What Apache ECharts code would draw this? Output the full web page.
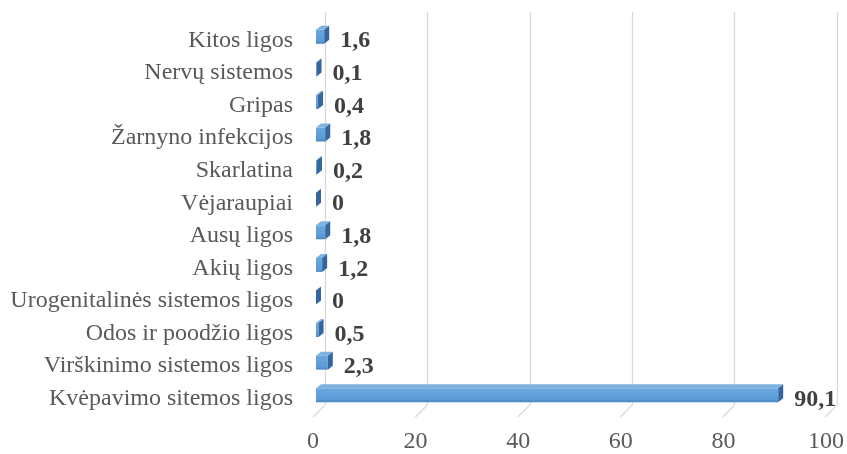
<!DOCTYPE html>
<html>
<head>
<meta charset="utf-8">
<script src="https://cdn.jsdelivr.net/npm/echarts@6/dist/echarts.min.js"></script>
<style>html,body{margin:0;padding:0;background:#fff;}#c{width:847px;height:454px;}</style>
</head>
<body>
<div id="c"></div>
<script>
const categories = [
  'Kitos ligos',
  'Nervų sistemos',
  'Gripas',
  'Žarnyno infekcijos',
  'Skarlatina',
  'Vėjaraupiai',
  'Ausų ligos',
  'Akių ligos',
  'Urogenitalinės sistemos ligos',
  'Odos ir poodžio ligos',
  'Virškinimo sistemos ligos',
  'Kvėpavimo sitemos ligos'
];
const values = [1.6, 0.1, 0.4, 1.8, 0.2, 0, 1.8, 1.2, 0, 0.5, 2.3, 90.1];
const xTicks = [0, 20, 40, 60, 80, 100];

const FONT = '"Liberation Serif", "Times New Roman", serif';
const chart = echarts.init(document.getElementById('c'));

const DX = 5, DY = 4, H = 14, SHIFT_X = 3, SHIFT_Y = -3.5;

function renderBar(params, api) {
  const v = api.value(0);
  const cat = api.value(1);
  const p0 = api.coord([0, cat]);
  const p1 = api.coord([v, cat]);
  const x = p0[0] + SHIFT_X;
  const w = p1[0] - p0[0];
  const cy = p0[1] + SHIFT_Y;
  const y = cy - H / 2;
  const label = String(v).replace('.', ',');
  return {
    type: 'group',
    children: [
      { type: 'rect', shape: { x: x, y: y, width: w, height: H },
        style: { fill: new echarts.graphic.LinearGradient(0, 0, 0, 1, [
          { offset: 0, color: '#6aa7dd' }, { offset: 0.8, color: '#5b9bd5' }, { offset: 1, color: '#4a83bd' }]) } },
      { type: 'polygon', shape: { points: [[x, y], [x + DX, y - DY], [x + w + DX, y - DY], [x + w, y]] },
        style: { fill: '#7eb1e0' } },
      { type: 'polygon', shape: { points: [[x + w, y], [x + w + DX, y - DY], [x + w + DX, y + H - DY], [x + w, y + H]] },
        style: { fill: '#35679e' } },
      { type: 'text', style: { x: x + w + DX + 11, y: p0[1] + 1, text: label,
        font: 'bold 24px ' + FONT, fill: '#404040', verticalAlign: 'middle', align: 'left' } }
    ]
  };
}

function renderFloor(params, api) {
  const t = api.value(0);
  const p = api.coord([t, 0]);
  return { type: 'line', shape: { x1: p[0], y1: p[1], x2: p[0] - 12, y2: p[1] + 12 },
    style: { stroke: '#d9d9d9', lineWidth: 1.3 } };
}

chart.setOption({
  animation: false,
  backgroundColor: '#ffffff',
  grid: [
    { left: 325, right: 10, top: 12, bottom: 49 },
    { left: 313, right: 21, top: 24, bottom: 37 }
  ],
  xAxis: [
    { gridIndex: 0, type: 'value', min: 0, max: 100, interval: 20,
      axisLine: { show: false }, axisTick: { show: false }, axisLabel: { show: false },
      splitLine: { show: true, lineStyle: { color: '#d9d9d9', width: 1.3 } } },
    { gridIndex: 1, type: 'value', min: 0, max: 100, interval: 20,
      axisLine: { show: false }, axisTick: { show: false }, splitLine: { show: false },
      axisLabel: { margin: 15, fontFamily: FONT, fontSize: 24, color: '#595959' } }
  ],
  yAxis: [
    { gridIndex: 0, type: 'value', min: 0, max: 1, show: false },
    { gridIndex: 1, type: 'category', data: categories, inverse: true,
      axisLine: { show: false }, axisTick: { show: false }, splitLine: { show: false },
      axisLabel: { margin: 20, fontFamily: FONT, fontSize: 24, color: '#595959' } }
  ],
  series: [
    { type: 'custom', xAxisIndex: 0, yAxisIndex: 0, renderItem: renderFloor,
      data: xTicks.map(t => [t]), silent: true, z: 1 },
    { type: 'custom', xAxisIndex: 1, yAxisIndex: 1, renderItem: renderBar,
      data: values.map((v, i) => [v, i]), z: 5 }
  ]
});
</script>
</body>
</html>
